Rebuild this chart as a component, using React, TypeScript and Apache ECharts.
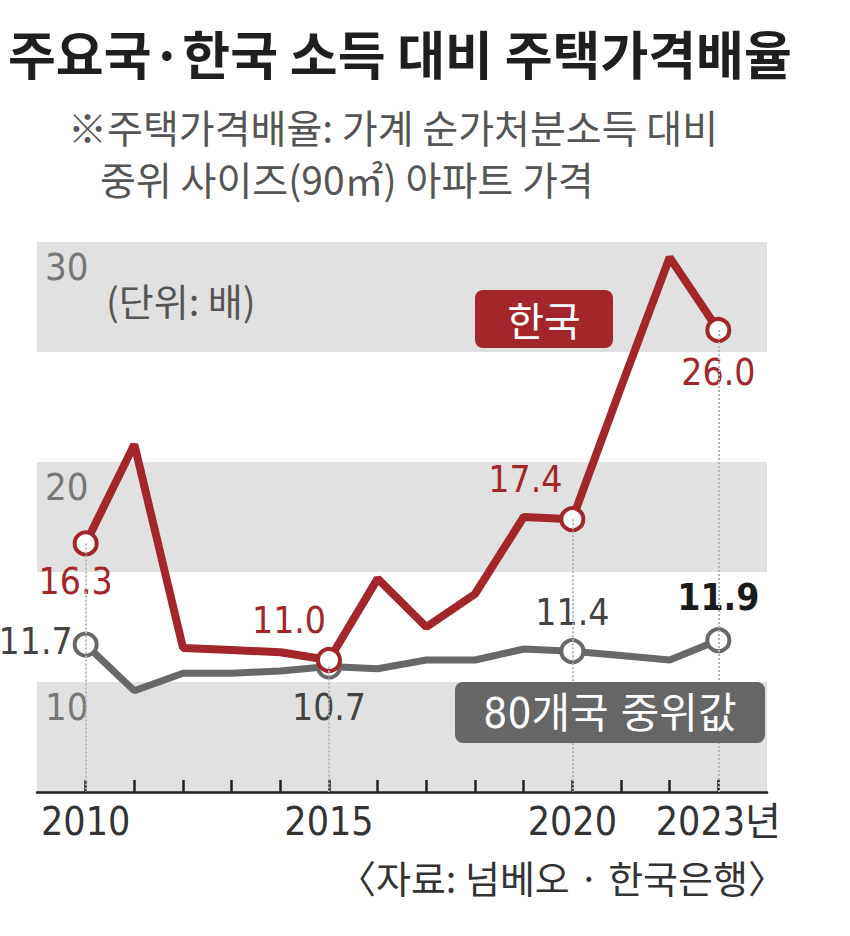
import React, { useEffect, useRef } from 'react';
import * as echarts from 'echarts';

const years = [2010, 2011, 2012, 2013, 2014, 2015, 2016, 2017, 2018, 2019, 2020, 2021, 2022, 2023];
const korea = [16.3, 20.8, 11.55, 11.45, 11.35, 11.0, 14.7, 12.5, 14.0, 17.5, 17.4, 23.4, 29.3, 26.0];
const median = [11.7, 9.6, 10.4, 10.4, 10.5, 10.7, 10.6, 11.0, 11.0, 11.5, 11.4, 11.2, 11.0, 11.9];
const markedYears = [2010, 2015, 2020, 2023];
const xLabelYears = [2010, 2015, 2020, 2023];
const yLabelValues = [10, 20, 30];

const RED = '#a3262b';
const GRAY = '#686868';
const NUM_FONT = '"DejaVu Sans Condensed", "Liberation Sans", sans-serif';
const KR_FONT = '"Noto Sans CJK KR", sans-serif';
const MIX_FONT = '"DejaVu Sans Condensed", "Noto Sans CJK KR", sans-serif';

const koreaLabelStyle: Record<number, any> = {
  2010: { position: 'bottom', offset: [-10, 2] },
  2015: { position: 'top', offset: [-40, -3] },
  2020: { position: 'top', offset: [-47, -3] },
  2023: { position: 'bottom', offset: [0, 6] },
};
const medianLabelStyle: Record<number, any> = {
  2010: { position: 'left', offset: [5, -3] },
  2015: { position: 'bottom', offset: [0, 4] },
  2020: { position: 'top', offset: [0, -2] },
  2023: { position: 'top', offset: [0, -6], color: '#1a1a1a', fontWeight: 'bold' },
};

function buildData(values: number[], color: string, labelColor: string, labelStyles: Record<number, any>) {
  return years.map((y, i) => {
    const marked = markedYears.includes(y);
    if (!marked) return { value: [y, values[i]], symbol: 'none' };
    const ls = labelStyles[y] || {};
    return {
      value: [y, values[i]],
      symbol: 'circle',
      symbolSize: 22,
      itemStyle: { color: '#ffffff', borderColor: color, borderWidth: 4 },
      label: {
        show: true,
        position: ls.position,
        offset: ls.offset,
        formatter: values[i].toFixed(1),
        color: ls.color || labelColor,
        fontWeight: ls.fontWeight || 'normal',
        fontFamily: NUM_FONT,
        fontSize: 37,
      },
    };
  });
}

export default function App() {
  const ref = useRef<HTMLDivElement>(null);
  useEffect(() => {
    if (!ref.current) return;
    const chart = echarts.init(ref.current, null, { renderer: 'svg' });
    const dotted = markedYears.map((y) => {
      const i = years.indexOf(y);
      const top = y === 2015 ? median[i] : korea[i];
      return [{ coord: [y, top] }, { coord: [y, 5] }];
    });
    chart.setOption({
      animation: false,
      backgroundColor: '#ffffff',
      grid: { left: 37, right: 83, top: 242, bottom: 144, containLabel: false },
      xAxis: {
        type: 'value',
        min: 2009,
        max: 2024,
        interval: 1,
        axisLine: { show: true, lineStyle: { color: '#222', width: 2.5 } },
        axisTick: { show: true, inside: true, length: 12, customValues: years, lineStyle: { color: '#222', width: 2.5 } },
        axisLabel: {
          customValues: xLabelYears,
          formatter: (v: number) => (v === 2023 ? '2023년' : String(v)),
          fontFamily: MIX_FONT,
          fontSize: 39,
          color: '#333',
          margin: 10,
        },
        splitLine: { show: false },
      },
      yAxis: {
        type: 'value',
        min: 5,
        max: 30,
        interval: 5,
        axisLine: { show: false },
        axisTick: { show: false },
        splitLine: { show: false },
        splitArea: { show: true, areaStyle: { color: ['#e1e1e1', '#ffffff'] } },
        axisLabel: {
          customValues: yLabelValues,
          inside: true,
          align: 'left',
          verticalAlign: 'top',
          padding: [6, 0, 0, 0],
          margin: 8,
          fontFamily: NUM_FONT,
          fontSize: 38,
          color: '#777',
        },
      },
      series: [
        {
          type: 'line',
          name: '80개국 중위값',
          data: buildData(median, GRAY, '#444', medianLabelStyle),
          lineStyle: { color: GRAY, width: 7 },
          itemStyle: { color: GRAY },
          markLine: {
            silent: true,
            symbol: 'none',
            label: { show: false },
            lineStyle: { color: '#b5b5b5', type: 'dotted', width: 2 },
            data: dotted,
          },
        },
        {
          type: 'line',
          name: '한국',
          data: buildData(korea, RED, RED, koreaLabelStyle),
          lineStyle: { color: RED, width: 8 },
          itemStyle: { color: RED },
        },
      ],
      graphic: [
        {
          type: 'text', x: 8, y: 52, z: 100,
          style: { text: '주요국·한국 소득 대비 주택가격배율', fontFamily: KR_FONT, fontSize: 52, fontWeight: 'bold', fill: '#1f1f1f', textVerticalAlign: 'middle' },
        },
        {
          type: 'text', x: 68, y: 126, z: 100,
          style: { text: '※주택가격배율: 가계 순가처분소득 대비', fontFamily: KR_FONT, fontSize: 39, fill: '#555', textVerticalAlign: 'middle' },
        },
        {
          type: 'text', x: 100, y: 178, z: 100,
          style: { text: '중위 사이즈(90㎡) 아파트 가격', fontFamily: KR_FONT, fontSize: 39, fill: '#555', textVerticalAlign: 'middle' },
        },
        {
          type: 'text', x: 106, y: 299, z: 100,
          style: { text: '(단위: 배)', fontFamily: KR_FONT, fontSize: 38, fill: '#555', textVerticalAlign: 'middle' },
        },
        {
          type: 'group', x: 475, y: 290, z: 100,
          children: [
            { type: 'rect', z: 100, shape: { x: 0, y: 0, width: 138, height: 58, r: 8 }, style: { fill: RED } },
            { type: 'text', z: 101, x: 69, y: 29, style: { text: '한국', fontFamily: KR_FONT, fontSize: 40, fill: '#fff', textAlign: 'center', textVerticalAlign: 'middle' } },
          ],
        },
        {
          type: 'group', x: 455, y: 682, z: 100,
          children: [
            { type: 'rect', z: 100, shape: { x: 0, y: 0, width: 310, height: 61, r: 8 }, style: { fill: '#666' } },
            { type: 'text', z: 101, x: 155, y: 31, style: { text: '80개국 중위값', fontFamily: MIX_FONT, fontSize: 42, fill: '#fff', textAlign: 'center', textVerticalAlign: 'middle' } },
          ],
        },
        {
          type: 'text', x: 786, y: 876, z: 100,
          style: { text: '〈자료: 넘베오 · 한국은행〉', fontFamily: KR_FONT, fontSize: 38, fill: '#333', textAlign: 'right', textVerticalAlign: 'middle' },
        },
      ],
    });
    return () => chart.dispose();
  }, []);
  return <div ref={ref} style={{ position: 'absolute', left: 0, top: 0, width: 850, height: 936 }} />;
}
